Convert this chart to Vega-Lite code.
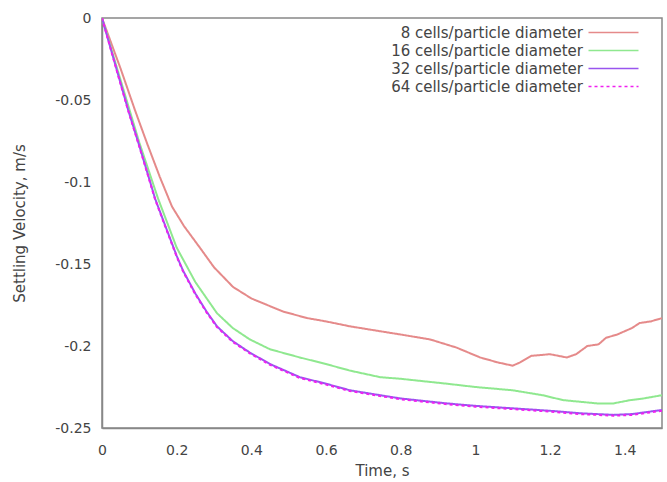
{
  "$schema": "https://vega.github.io/schema/vega-lite/v6.json",
  "width": 560,
  "height": 410,
  "autosize": "none",
  "padding": {"left": 102, "top": 18, "right": 5, "bottom": 54},
  "background": "white",
  "config": {
    "font": "DejaVu Sans",
    "view": {"stroke": "#888888", "strokeWidth": 1.5},
    "axis": {"grid": false, "domainColor": "#888888", "tickColor": "#888888", "labelColor": "#444444", "titleColor": "#444444", "labelFontSize": 14, "titleFontSize": 15, "titleFontWeight": "normal", "domainWidth": 1.5, "tickWidth": 1.2}
  },
  "data": {"values": [
    {"s": "8 cells/particle diameter", "t": 0, "v": 0},
    {"s": "8 cells/particle diameter", "t": 0.05, "v": -0.031},
    {"s": "8 cells/particle diameter", "t": 0.088, "v": -0.056},
    {"s": "8 cells/particle diameter", "t": 0.12, "v": -0.076},
    {"s": "8 cells/particle diameter", "t": 0.155, "v": -0.097},
    {"s": "8 cells/particle diameter", "t": 0.1875, "v": -0.115},
    {"s": "8 cells/particle diameter", "t": 0.22, "v": -0.127},
    {"s": "8 cells/particle diameter", "t": 0.262, "v": -0.140},
    {"s": "8 cells/particle diameter", "t": 0.3, "v": -0.152},
    {"s": "8 cells/particle diameter", "t": 0.351, "v": -0.164},
    {"s": "8 cells/particle diameter", "t": 0.4, "v": -0.171},
    {"s": "8 cells/particle diameter", "t": 0.485, "v": -0.179},
    {"s": "8 cells/particle diameter", "t": 0.55, "v": -0.183},
    {"s": "8 cells/particle diameter", "t": 0.6, "v": -0.185},
    {"s": "8 cells/particle diameter", "t": 0.664, "v": -0.188},
    {"s": "8 cells/particle diameter", "t": 0.745, "v": -0.191},
    {"s": "8 cells/particle diameter", "t": 0.8, "v": -0.193},
    {"s": "8 cells/particle diameter", "t": 0.879, "v": -0.196},
    {"s": "8 cells/particle diameter", "t": 0.95, "v": -0.201},
    {"s": "8 cells/particle diameter", "t": 1.013, "v": -0.207},
    {"s": "8 cells/particle diameter", "t": 1.06, "v": -0.210},
    {"s": "8 cells/particle diameter", "t": 1.1, "v": -0.212},
    {"s": "8 cells/particle diameter", "t": 1.12, "v": -0.210},
    {"s": "8 cells/particle diameter", "t": 1.15, "v": -0.206},
    {"s": "8 cells/particle diameter", "t": 1.2, "v": -0.205},
    {"s": "8 cells/particle diameter", "t": 1.245, "v": -0.207},
    {"s": "8 cells/particle diameter", "t": 1.27, "v": -0.205},
    {"s": "8 cells/particle diameter", "t": 1.3, "v": -0.200},
    {"s": "8 cells/particle diameter", "t": 1.33, "v": -0.199},
    {"s": "8 cells/particle diameter", "t": 1.35, "v": -0.195},
    {"s": "8 cells/particle diameter", "t": 1.38, "v": -0.193},
    {"s": "8 cells/particle diameter", "t": 1.4, "v": -0.191},
    {"s": "8 cells/particle diameter", "t": 1.42, "v": -0.189},
    {"s": "8 cells/particle diameter", "t": 1.44, "v": -0.186},
    {"s": "8 cells/particle diameter", "t": 1.47, "v": -0.185},
    {"s": "8 cells/particle diameter", "t": 1.5, "v": -0.183},
    {"s": "16 cells/particle diameter", "t": 0, "v": 0},
    {"s": "16 cells/particle diameter", "t": 0.05, "v": -0.038},
    {"s": "16 cells/particle diameter", "t": 0.1, "v": -0.076},
    {"s": "16 cells/particle diameter", "t": 0.15, "v": -0.110},
    {"s": "16 cells/particle diameter", "t": 0.2, "v": -0.140},
    {"s": "16 cells/particle diameter", "t": 0.25, "v": -0.161},
    {"s": "16 cells/particle diameter", "t": 0.308, "v": -0.180},
    {"s": "16 cells/particle diameter", "t": 0.35, "v": -0.189},
    {"s": "16 cells/particle diameter", "t": 0.396, "v": -0.196},
    {"s": "16 cells/particle diameter", "t": 0.45, "v": -0.202},
    {"s": "16 cells/particle diameter", "t": 0.53, "v": -0.207},
    {"s": "16 cells/particle diameter", "t": 0.6, "v": -0.211},
    {"s": "16 cells/particle diameter", "t": 0.664, "v": -0.215},
    {"s": "16 cells/particle diameter", "t": 0.745, "v": -0.219},
    {"s": "16 cells/particle diameter", "t": 0.8, "v": -0.220},
    {"s": "16 cells/particle diameter", "t": 0.924, "v": -0.223},
    {"s": "16 cells/particle diameter", "t": 1.0, "v": -0.225},
    {"s": "16 cells/particle diameter", "t": 1.1, "v": -0.227},
    {"s": "16 cells/particle diameter", "t": 1.18, "v": -0.230},
    {"s": "16 cells/particle diameter", "t": 1.235, "v": -0.233},
    {"s": "16 cells/particle diameter", "t": 1.326, "v": -0.235},
    {"s": "16 cells/particle diameter", "t": 1.37, "v": -0.235},
    {"s": "16 cells/particle diameter", "t": 1.415, "v": -0.233},
    {"s": "16 cells/particle diameter", "t": 1.45, "v": -0.232},
    {"s": "16 cells/particle diameter", "t": 1.5, "v": -0.230},
    {"s": "32 cells/particle diameter", "t": 0, "v": 0},
    {"s": "32 cells/particle diameter", "t": 0.03, "v": -0.024},
    {"s": "32 cells/particle diameter", "t": 0.07, "v": -0.056},
    {"s": "32 cells/particle diameter", "t": 0.1, "v": -0.078},
    {"s": "32 cells/particle diameter", "t": 0.129, "v": -0.100},
    {"s": "32 cells/particle diameter", "t": 0.142, "v": -0.110},
    {"s": "32 cells/particle diameter", "t": 0.17, "v": -0.127},
    {"s": "32 cells/particle diameter", "t": 0.2, "v": -0.145},
    {"s": "32 cells/particle diameter", "t": 0.217, "v": -0.154},
    {"s": "32 cells/particle diameter", "t": 0.25, "v": -0.168},
    {"s": "32 cells/particle diameter", "t": 0.28, "v": -0.179},
    {"s": "32 cells/particle diameter", "t": 0.308, "v": -0.188},
    {"s": "32 cells/particle diameter", "t": 0.35, "v": -0.197},
    {"s": "32 cells/particle diameter", "t": 0.396, "v": -0.204},
    {"s": "32 cells/particle diameter", "t": 0.45, "v": -0.211},
    {"s": "32 cells/particle diameter", "t": 0.53, "v": -0.219},
    {"s": "32 cells/particle diameter", "t": 0.6, "v": -0.223},
    {"s": "32 cells/particle diameter", "t": 0.664, "v": -0.227},
    {"s": "32 cells/particle diameter", "t": 0.745, "v": -0.230},
    {"s": "32 cells/particle diameter", "t": 0.8, "v": -0.232},
    {"s": "32 cells/particle diameter", "t": 0.924, "v": -0.235},
    {"s": "32 cells/particle diameter", "t": 1.0, "v": -0.2365},
    {"s": "32 cells/particle diameter", "t": 1.1, "v": -0.238},
    {"s": "32 cells/particle diameter", "t": 1.2, "v": -0.2395},
    {"s": "32 cells/particle diameter", "t": 1.28, "v": -0.241},
    {"s": "32 cells/particle diameter", "t": 1.37, "v": -0.242},
    {"s": "32 cells/particle diameter", "t": 1.42, "v": -0.2415},
    {"s": "32 cells/particle diameter", "t": 1.5, "v": -0.239},
    {"s": "64 cells/particle diameter", "t": 0, "v": 0},
    {"s": "64 cells/particle diameter", "t": 0.03, "v": -0.0245},
    {"s": "64 cells/particle diameter", "t": 0.07, "v": -0.0565},
    {"s": "64 cells/particle diameter", "t": 0.1, "v": -0.0785},
    {"s": "64 cells/particle diameter", "t": 0.129, "v": -0.1005},
    {"s": "64 cells/particle diameter", "t": 0.142, "v": -0.1105},
    {"s": "64 cells/particle diameter", "t": 0.17, "v": -0.1275},
    {"s": "64 cells/particle diameter", "t": 0.2, "v": -0.1455},
    {"s": "64 cells/particle diameter", "t": 0.217, "v": -0.1545},
    {"s": "64 cells/particle diameter", "t": 0.25, "v": -0.1685},
    {"s": "64 cells/particle diameter", "t": 0.28, "v": -0.1795},
    {"s": "64 cells/particle diameter", "t": 0.308, "v": -0.1885},
    {"s": "64 cells/particle diameter", "t": 0.35, "v": -0.1975},
    {"s": "64 cells/particle diameter", "t": 0.396, "v": -0.2045},
    {"s": "64 cells/particle diameter", "t": 0.45, "v": -0.2115},
    {"s": "64 cells/particle diameter", "t": 0.53, "v": -0.2195},
    {"s": "64 cells/particle diameter", "t": 0.6, "v": -0.2235},
    {"s": "64 cells/particle diameter", "t": 0.664, "v": -0.2275},
    {"s": "64 cells/particle diameter", "t": 0.745, "v": -0.2305},
    {"s": "64 cells/particle diameter", "t": 0.8, "v": -0.2325},
    {"s": "64 cells/particle diameter", "t": 0.924, "v": -0.2355},
    {"s": "64 cells/particle diameter", "t": 1.0, "v": -0.237},
    {"s": "64 cells/particle diameter", "t": 1.1, "v": -0.2385},
    {"s": "64 cells/particle diameter", "t": 1.2, "v": -0.24},
    {"s": "64 cells/particle diameter", "t": 1.28, "v": -0.2415},
    {"s": "64 cells/particle diameter", "t": 1.37, "v": -0.2425},
    {"s": "64 cells/particle diameter", "t": 1.42, "v": -0.242},
    {"s": "64 cells/particle diameter", "t": 1.5, "v": -0.2395}
  ]},
  "mark": {"type": "line", "strokeWidth": 2, "clip": true},
  "encoding": {
    "x": {"field": "t", "type": "quantitative", "scale": {"domain": [0, 1.5], "nice": false, "zero": false},
      "axis": {"title": "Time, s", "tickCount": 8, "ticks": false, "labelPadding": 15, "titlePadding": 6, "labelFlush": false,
        "labelExpr": "format(datum.value, '')"}},
    "y": {"field": "v", "type": "quantitative", "scale": {"domain": [-0.25, 0], "nice": false, "zero": false},
      "axis": {"title": "Settling Velocity, m/s", "tickCount": 5, "ticks": false, "labelPadding": 11, "titlePadding": 27, "labelFlush": false,
        "labelExpr": "datum.value == 0 ? '0' : '-' + format(abs(datum.value), '')"}},
    "color": {"field": "s", "type": "nominal", "sort": null,
      "scale": {"domain": ["8 cells/particle diameter", "16 cells/particle diameter", "32 cells/particle diameter", "64 cells/particle diameter"],
        "range": ["#e58a8a", "#8fe88f", "#9955ee", "#f020f0"]},
      "legend": {"title": null, "orient": "none", "legendX": 504, "legendY": 7, "symbolType": "M-5,0H5", "symbolSize": 100, "symbolStrokeWidth": 1.5, "symbolFillColor": "transparent",
        "labelAlign": "right", "labelOffset": -38, "labelFontSize": 15, "labelColor": "#444444", "rowPadding": 2, "labelLimit": 300, "padding": 0}},
    "strokeDash": {"field": "s", "type": "nominal", "sort": null,
      "scale": {"domain": ["8 cells/particle diameter", "16 cells/particle diameter", "32 cells/particle diameter", "64 cells/particle diameter"],
        "range": [[1, 0], [1, 0], [1, 0], [3, 3]]}}
  }
}
